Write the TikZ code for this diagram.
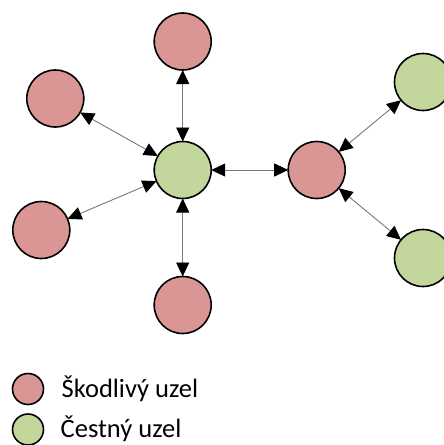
\documentclass[tikz,border=0pt]{standalone}
\usepackage{fontspec}
\setmainfont{Carlito}
\usetikzlibrary{arrows.meta}
\definecolor{badred}{HTML}{D99694}
\definecolor{goodgreen}{HTML}{C3D69B}
\definecolor{linkgray}{RGB}{120,120,120}
\tikzset{
  nodebase/.style={circle, draw=black, line width=1.6pt, minimum size=57pt, inner sep=0pt, outer sep=0pt},
  bad/.style={nodebase, fill=badred},
  good/.style={nodebase, fill=goodgreen},
  legbad/.style={nodebase, fill=badred, minimum size=31pt},
  leggood/.style={nodebase, fill=goodgreen, minimum size=31pt},
  link/.style={draw=linkgray, line width=0.9pt, {Triangle[length=14pt,width=13pt,color=black]}-{Triangle[length=14pt,width=13pt,color=black]}},
  legtext/.style={anchor=base west, inner sep=0pt, font=\fontsize{26.5}{30}\selectfont}
}
\begin{document}
\begin{tikzpicture}[x=1pt,y=-1pt]
\useasboundingbox (0,0) rectangle (444,445);
\clip (0,0) rectangle (444,445);
\node[good] (c) at (182.7,170) {};
\node[bad] (t) at (182.7,41.5) {};
\node[bad] (ul) at (55.3,98.5) {};
\node[bad] (ll) at (41.3,230) {};
\node[bad] (b) at (182.7,305) {};
\node[bad] (r) at (316.7,170) {};
\node[good] (tr) at (423,82) {};
\node[good] (br) at (423,258) {};
\draw[link] (c) -- (t);
\draw[link] (c) -- (ul);
\draw[link] (c) -- (ll);
\draw[link] (c) -- (b);
\draw[link] (c) -- (r);
\draw[link] (r) -- (tr);
\draw[link] (r) -- (br);
\node[legbad] (lb) at (28,389) {};
\node[leggood] (lg) at (28,429.5) {};
\node[legtext] (tb) at (61.5,397) {Škodlivý uzel};
\node[legtext] (tg) at (60.5,437.5) {Čestný uzel};
\end{tikzpicture}
\end{document}
